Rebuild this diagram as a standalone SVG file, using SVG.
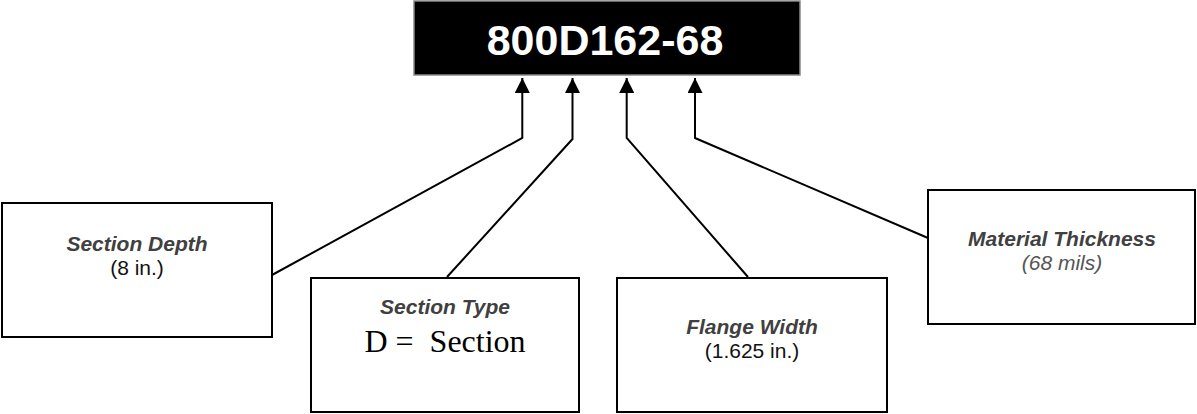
<svg xmlns="http://www.w3.org/2000/svg" width="1197" height="414" viewBox="0 0 1197 414">
  <style>
    .box { fill: #fff; stroke: #000; stroke-width: 2; }
    .lbl { font-family: "Liberation Sans", Arial, sans-serif; font-size: 21px; font-weight: bold; font-style: italic; fill: #404040; text-anchor: middle; }
    .val { font-family: "Liberation Sans", Arial, sans-serif; font-size: 21px; fill: #111; text-anchor: middle; }
    .vali { font-family: "Liberation Sans", Arial, sans-serif; font-size: 21px; font-style: italic; fill: #555; text-anchor: middle; }
    .conn { fill: none; stroke: #000; stroke-width: 2; }
  </style>
  <defs>
    <marker id="arr" viewBox="0 0 15 15" refX="15" refY="7.5" markerWidth="15" markerHeight="15" markerUnits="userSpaceOnUse" orient="auto">
      <path d="M0,0 L15,7.5 L0,15 Z" fill="#000"/>
    </marker>
  </defs>
  <rect width="1197" height="414" fill="#fff"/>

  <g id="title">
    <rect x="414" y="1" width="386" height="74" fill="#000" stroke="#888" stroke-width="1.5"/>
    <text x="605" y="55" font-family="'Liberation Sans', Arial, sans-serif" font-size="43" font-weight="bold" fill="#fff" text-anchor="middle">800D162-68</text>
  </g>

  <g id="connectors">
    <polyline class="conn" points="272,275 522.3,138 522.3,78" marker-end="url(#arr)"/>
    <polyline class="conn" points="447,277 572.5,139 572.5,78" marker-end="url(#arr)"/>
    <polyline class="conn" points="748,277 626.7,138 626.7,78" marker-end="url(#arr)"/>
    <polyline class="conn" points="928,238 695,138 695,78" marker-end="url(#arr)"/>
  </g>

  <g id="section-depth">
    <rect class="box" x="2" y="203" width="270" height="134"/>
    <text class="lbl" x="137" y="251">Section Depth</text>
    <text class="val" x="137" y="275">(8 in.)</text>
  </g>

  <g id="section-type">
    <rect class="box" x="311" y="278" width="268" height="134"/>
    <text class="lbl" x="445" y="314">Section Type</text>
    <text x="445" y="352" font-family="'Liberation Serif', 'Times New Roman', serif" font-size="32" fill="#000" text-anchor="middle" style="white-space:pre">D =  Section</text>
  </g>

  <g id="flange-width">
    <rect class="box" x="617" y="278" width="270" height="134"/>
    <text class="lbl" x="752" y="334">Flange Width</text>
    <text class="val" x="752" y="358">(1.625 in.)</text>
  </g>

  <g id="material-thickness">
    <rect class="box" x="928" y="190" width="267" height="134"/>
    <text class="lbl" x="1062" y="246">Material Thickness</text>
    <text class="vali" x="1062" y="270">(68 mils)</text>
  </g>
</svg>
